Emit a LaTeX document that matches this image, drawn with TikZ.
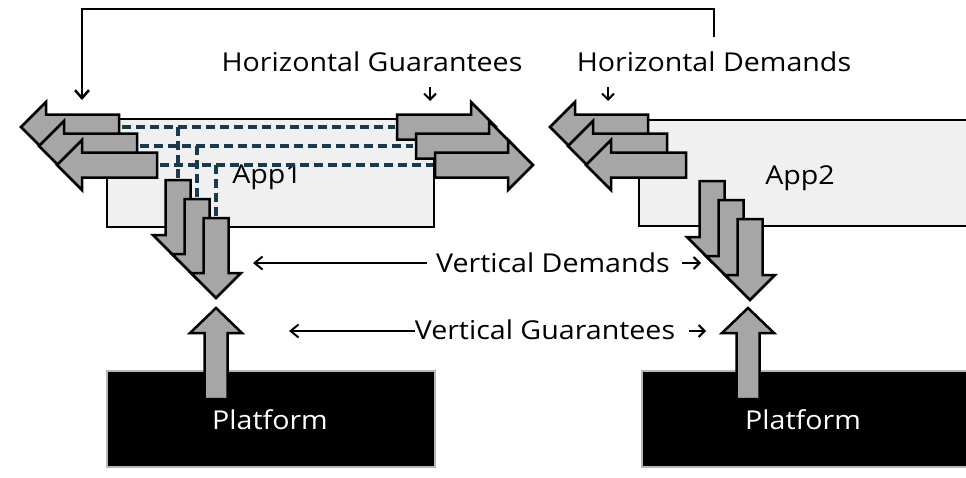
\documentclass[tikz,border=0pt]{standalone}
\usepackage{fontspec}
\setmainfont[FakeStretch=1.1]{Open Sans}
\usetikzlibrary{arrows.meta}

\definecolor{arrowgray}{HTML}{A6A6A6}
\definecolor{appfill}{HTML}{F0F0F0}
\definecolor{linkteal}{HTML}{173A4C}
\definecolor{platedge}{HTML}{B8B8B8}

\tikzset{
  bigarrow/.style={fill=arrowgray, draw=black, line width=2.5pt, line join=miter},
  appbox/.style={fill=appfill, draw=black, line width=2pt},
  platbox/.style={fill=black, draw=platedge, line width=2pt},
  linkline/.style={draw=linkteal, line width=3.3pt, dash pattern=on 9pt off 5pt},
  pointer/.style={draw=black, line width=2pt, -{Straight Barb[length=6pt,width=12pt]}},
  longpointer/.style={draw=black, line width=2pt, -{Straight Barb[length=8pt,width=13pt]}},
  lbl/.style={font=\fontsize{26}{31}\selectfont, inner sep=0pt, anchor=base},
  platlbl/.style={lbl, text=white},
}

% block arrows: tip position, centre line, end of the body
\newcommand\ArrowPointLeft[3]{(#1,#2) -- (#1+25,#2-25) -- (#1+25,#2-12.5) -- (#3,#2-12.5) -- (#3,#2+12.5) -- (#1+25,#2+12.5) -- (#1+25,#2+25) -- cycle}
\newcommand\ArrowPointRight[3]{(#1,#2) -- (#1-25,#2-25) -- (#1-25,#2-12.5) -- (#3,#2-12.5) -- (#3,#2+12.5) -- (#1-25,#2+12.5) -- (#1-25,#2+25) -- cycle}
\newcommand\ArrowPointDown[3]{(#1,#2) -- (#1-25,#2-25) -- (#1-12.5,#2-25) -- (#1-12.5,#3) -- (#1+12.5,#3) -- (#1+12.5,#2-25) -- (#1+25,#2-25) -- cycle}
\newcommand\ArrowPointUp[3]{(#1,#2) -- (#1-26,#2+25) -- (#1-11.5,#2+25) -- (#1-11.5,#3) -- (#1+11.5,#3) -- (#1+11.5,#2+25) -- (#1+26,#2+25) -- cycle}

\begin{document}
\begin{tikzpicture}[x=1pt,y=-1pt]
\useasboundingbox (0,0) rectangle (966,477);
\clip (0,0) rectangle (966,477);

% labels
\node[lbl] (hg) at (372,71) {Horizontal Guarantees};
\node[lbl] (hd) at (714,71) {Horizontal Demands};
\node[lbl] (vd) at (553,272) {Vertical Demands};
\node[lbl] (vg) at (545,339) {Vertical Guarantees};

% feedback loop from the demands of App2 to App1
\coordinate (loopS) at (714,37);
\coordinate (loopE) at (82,100);
\draw[line width=2.5pt, -{Straight Barb[length=8pt,width=14pt]}] (loopS) |- (82,9) -- (loopE);

% small pointers under the horizontal labels
\coordinate (hgA) at (430,87); \coordinate (hgB) at (430,101);
\coordinate (hdA) at (608,87); \coordinate (hdB) at (608,101);
\draw[pointer] (hgA) -- (hgB);
\draw[pointer] (hdA) -- (hdB);

% pointers of the vertical labels
\coordinate (vdL0) at (427,263); \coordinate (vdL1) at (253,263);
\coordinate (vdR0) at (682,263); \coordinate (vdR1) at (701,263);
\coordinate (vgL0) at (415,331); \coordinate (vgL1) at (289,331);
\coordinate (vgR0) at (689,331); \coordinate (vgR1) at (706,331);
\draw[longpointer] (vdL0) -- (vdL1);
\draw[pointer] (vdR0) -- (vdR1);
\draw[longpointer] (vgL0) -- (vgL1);
\draw[pointer] (vgR0) -- (vgR1);

% ---------------- App1 ----------------
\draw[appbox] (107,119) rectangle (434,227);
\node[lbl] (app1) at (267,183) {App1};

\draw[linkline] (122,127) -- (395,127);
\draw[linkline] (140,146) -- (413,146);
\draw[linkline] (160,165) -- (433,165);
\draw[linkline] (178,127) -- (178,178);
\draw[linkline] (197,146) -- (197,197);
\draw[linkline] (216,165) -- (216,216);

\filldraw[bigarrow] \ArrowPointLeft{21}{127}{119};
\filldraw[bigarrow] \ArrowPointLeft{39}{146}{137};
\filldraw[bigarrow] \ArrowPointLeft{57}{165}{157};

\filldraw[bigarrow] \ArrowPointRight{496}{127}{397};
\filldraw[bigarrow] \ArrowPointRight{514}{146}{416};
\filldraw[bigarrow] \ArrowPointRight{533}{165}{435};

\filldraw[bigarrow] \ArrowPointDown{178}{260}{180};
\filldraw[bigarrow] \ArrowPointDown{197}{279}{199};
\filldraw[bigarrow] \ArrowPointDown{216}{298}{218};

% ---------------- App2 ----------------
\draw[appbox] (639,120) rectangle (990,226);
\node[lbl] (app2) at (800,184) {App2};

\filldraw[bigarrow] \ArrowPointLeft{550}{127}{648};
\filldraw[bigarrow] \ArrowPointLeft{568}{146}{667};
\filldraw[bigarrow] \ArrowPointLeft{586}{165}{686};

\filldraw[bigarrow] \ArrowPointDown{712}{262}{181};
\filldraw[bigarrow] \ArrowPointDown{731}{281}{200};
\filldraw[bigarrow] \ArrowPointDown{750}{300}{219};

% ---------------- platforms ----------------
\draw[platbox] (107,371) rectangle (435,467);
\filldraw[bigarrow] \ArrowPointUp{216}{308}{399};
\node[platlbl] (plat1) at (270,429) {Platform};

\draw[platbox] (642,371) rectangle (990,467);
\filldraw[bigarrow] \ArrowPointUp{748}{308}{399};
\node[platlbl] (plat2) at (803,429) {Platform};
\end{tikzpicture}
\end{document}
